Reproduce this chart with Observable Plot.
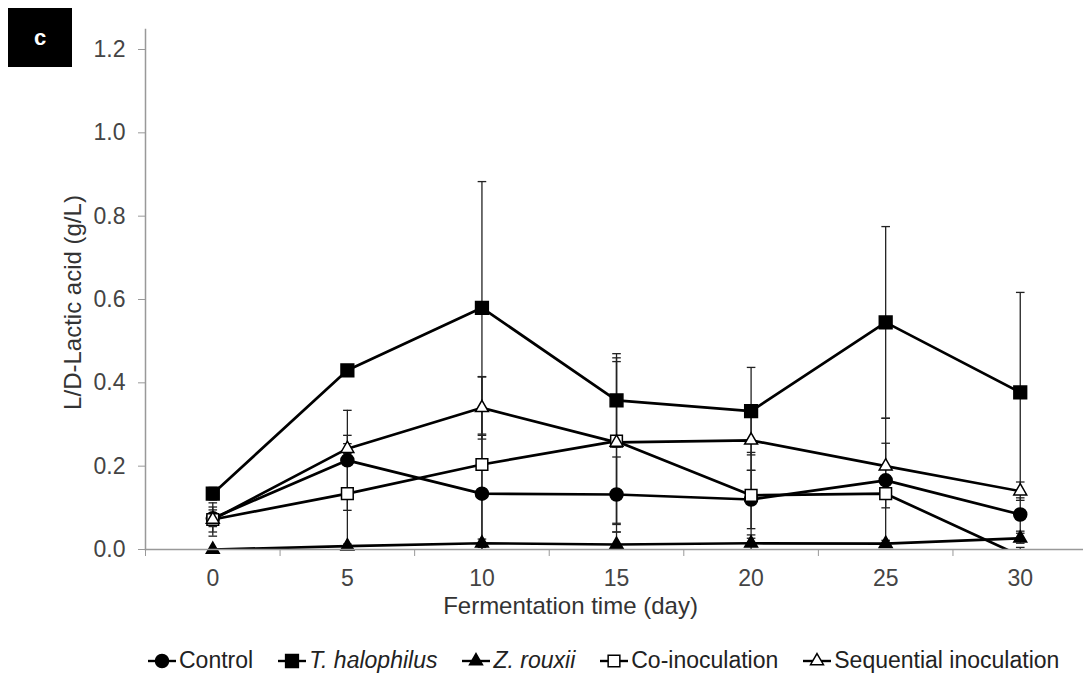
<!DOCTYPE html>
<html><head><meta charset="utf-8">
<script src="https://cdn.jsdelivr.net/npm/d3@7"></script>
<script src="https://cdn.jsdelivr.net/npm/@observablehq/plot@0.6"></script>
<style>
body{margin:0;background:#fff;font-family:"Liberation Sans",Arial,sans-serif;}
#wrap{position:relative;width:1083px;height:680px;overflow:hidden;background:#fff}
#chart{position:absolute;left:0;top:0}
#tag{position:absolute;left:8px;top:8px;width:64px;height:59px;background:#000;color:#fff;font-weight:bold;font-size:22px;display:flex;align-items:center;justify-content:center}
#legend{position:absolute;left:146px;top:647px;display:flex;align-items:center;gap:23px;font-size:23px;color:#222;white-space:nowrap}
#legend .item{display:flex;align-items:center}
#legend svg{display:block;margin-right:1px}
</style></head>
<body><div id="wrap"><div id="chart"></div><div id="tag">c</div><div id="legend"></div></div>
<script>
const days = [0, 5, 10, 15, 20, 25, 30];
const seriesNames = ["Control", "T. halophilus", "Z. rouxii", "Co-inoculation", "Sequential inoculation"];
const control      = [0.075, 0.214, 0.134, 0.132, 0.120, 0.166, 0.084];
const controlSD    = [0.020, 0.120, 0.140, 0.090, 0.070, 0.149, 0.040];
const halophilus   = [0.134, 0.430, 0.580, 0.358, 0.332, 0.545, 0.377];
const halophilusSD = [0.015, 0.005, 0.303, 0.112, 0.105, 0.230, 0.240];
const rouxii       = [0.000, 0.008, 0.015, 0.012, 0.015, 0.014, 0.027];
const rouxiiSD     = [0.000, 0.005, 0.010, 0.030, 0.020, 0.008, 0.012];
const coInoc       = [0.072, 0.134, 0.204, 0.260, 0.130, 0.134, -0.015];
const coInocSD     = [0.030, 0.140, 0.210, 0.200, 0.103, 0.034, 0.020];
const seqInoc      = [0.072, 0.242, 0.340, 0.257, 0.262, 0.200, 0.140];
const seqInocSD    = [0.040, 0.012, 0.075, 0.194, 0.072, 0.055, 0.022];
const yTicks = [0, 0.2, 0.4, 0.6, 0.8, 1.0, 1.2];
const xTickMarks = [-2.5, 2.5, 7.5, 12.5, 17.5, 22.5, 27.5];

const seriesValues = [control, halophilus, rouxii, coInoc, seqInoc];
const seriesSD = [controlSD, halophilusSD, rouxiiSD, coInocSD, seqInocSD];
const markerStyle = {
  "Control": {symbol: "circle", fill: "#000", r: 6.5},
  "T. halophilus": {symbol: "square", fill: "#000", r: 7.2},
  "Z. rouxii": {symbol: "triangle", fill: "#000", r: 4.8},
  "Co-inoculation": {symbol: "square", fill: "#fff", r: 6.6},
  "Sequential inoculation": {symbol: "triangle", fill: "#fff", r: 4.8}
};

const rows = seriesNames.flatMap((name, i) => days.map((d, j) => ({
  series: name, day: d, value: seriesValues[i][j], sd: seriesSD[i][j],
  lo: seriesValues[i][j] - seriesSD[i][j], hi: seriesValues[i][j] + seriesSD[i][j]
})));
const errRows = rows.filter(r => r.sd > 0);
const caps = errRows.flatMap(r => [{day: r.day, y: r.hi}, {day: r.day, y: r.lo}]).filter(c => c.y >= 0);

const capSymbol = {draw(ctx) { ctx.moveTo(-4.3, 0); ctx.lineTo(4.3, 0); }};

const fs = 23;
const chart = Plot.plot({
  width: 1083, height: 630,
  marginLeft: 145, marginRight: 0, marginTop: 29, marginBottom: 81,
  style: {fontFamily: "'Liberation Sans', Arial, sans-serif", background: "#fff"},
  x: {domain: [-2.5, 32.35]},
  y: {domain: [0, 1.248]},
  marks: [
    Plot.axisY(yTicks, {tickFormat: d3.format(".1f"), tickSize: 7, tickPadding: 13, stroke: "#999", fill: "#444", fontSize: fs, label: null}),
    Plot.axisX(xTickMarks, {tickSize: 7, tickFormat: () => "", stroke: "#999", label: null}),
    Plot.axisX(days, {tickSize: 0, tickPadding: 20, fill: "#444", fontSize: fs, label: null}),
    Plot.ruleX(errRows, {x: "day", y1: "lo", y2: "hi", stroke: "#222", strokeWidth: 1.3, clip: true}),
    Plot.dot(caps, {x: "day", y: "y", symbol: capSymbol, stroke: "#222", strokeWidth: 1.3, fill: "none"}),
    Plot.line(rows, {x: "day", y: "value", z: "series", stroke: "#000", strokeWidth: 2.7, clip: true}),
    ...seriesNames.map(name => Plot.dot(rows.filter(r => r.series === name && r.value >= 0), {
      x: "day", y: "value", symbol: markerStyle[name].symbol, r: markerStyle[name].r,
      fill: markerStyle[name].fill, stroke: "#000", strokeWidth: 1.5
    })),
    Plot.frame({anchor: "left", stroke: "#999", strokeWidth: 1.5}),
    Plot.frame({anchor: "bottom", stroke: "#999", strokeWidth: 1.5}),
    Plot.text(["Fermentation time (day)"], {text: d => d, frameAnchor: "bottom", textAnchor: "middle", lineAnchor: "middle", dy: 57, dx: -44, fontSize: 24, fill: "#333"}),
    Plot.text(["L/D-Lactic acid (g/L)"], {text: d => d, frameAnchor: "left", textAnchor: "middle", lineAnchor: "middle", rotate: -90, dx: -72, dy: 13, fontSize: 24, fill: "#333"})
  ]
});
document.getElementById("chart").appendChild(chart);

// Legend
const legend = document.getElementById("legend");
const italic = new Set(["T. halophilus", "Z. rouxii"]);
const symMap = {circle: d3.symbolCircle, square: d3.symbolSquare, triangle: d3.symbolTriangle};
seriesNames.forEach(name => {
  const st = markerStyle[name];
  const item = document.createElement("div");
  item.className = "item";
  const svg = d3.create("svg").attr("width", 32).attr("height", 20);
  svg.append("line").attr("x1", 2).attr("x2", 30).attr("y1", 10).attr("y2", 10).attr("stroke", "#000").attr("stroke-width", 2.4);
  svg.append("path").attr("transform", "translate(16,10)")
    .attr("d", d3.symbol(symMap[st.symbol], Math.PI * st.r * st.r)())
    .attr("fill", st.fill).attr("stroke", "#000").attr("stroke-width", 1.5);
  item.appendChild(svg.node());
  const span = document.createElement("span");
  span.textContent = name;
  if (italic.has(name)) span.style.fontStyle = "italic";
  item.appendChild(span);
  legend.appendChild(item);
});
</script>
</body></html>
